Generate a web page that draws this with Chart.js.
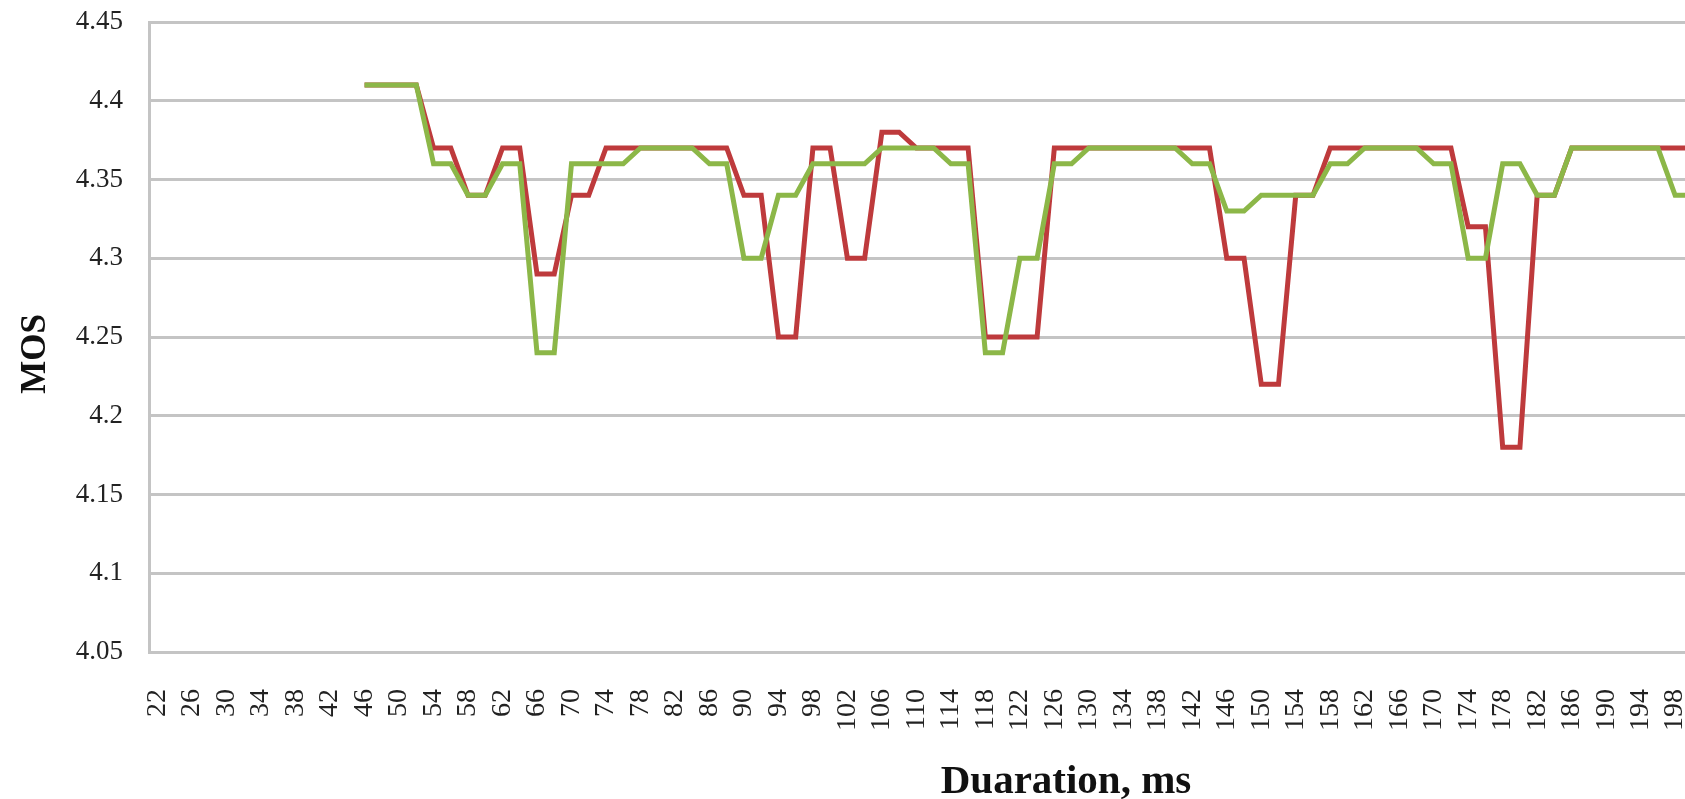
<!DOCTYPE html>
<html>
<head>
<meta charset="utf-8">
<title>MOS vs duration</title>
<script src="https://cdn.jsdelivr.net/npm/chart.js@4.4.1/dist/chart.umd.min.js"></script>
<style>
  html, body { margin: 0; padding: 0; background: #ffffff; overflow: hidden; width: 1685px; height: 799px; }
  #wrap { position: relative; width: 1701px; height: 799px; }
  canvas { display: block; }
</style>
</head>
<body>
<div id="wrap"><canvas id="mosChart" width="1701" height="799"></canvas></div>
<script>
// Duration categories, ms
const durations = [
  22, 24, 26, 28, 30, 32, 34, 36, 38, 40, 42, 44, 46, 48, 50, 52, 54, 56, 58, 60,
  62, 64, 66, 68, 70, 72, 74, 76, 78, 80, 82, 84, 86, 88, 90, 92, 94, 96, 98, 100,
  102, 104, 106, 108, 110, 112, 114, 116, 118, 120, 122, 124, 126, 128, 130, 132, 134, 136, 138, 140,
  142, 144, 146, 148, 150, 152, 154, 156, 158, 160, 162, 164, 166, 168, 170, 172, 174, 176, 178, 180,
  182, 184, 186, 188, 190, 192, 194, 196, 198, 200
];

// MOS, first series (red)
const mosRed = [
  null, null, null, null, null, null, null, null, null, null, null, null,
  4.41, 4.41, 4.41, 4.41, 4.37, 4.37, 4.34, 4.34,
  4.37, 4.37, 4.29, 4.29, 4.34, 4.34, 4.37, 4.37, 4.37, 4.37, 4.37, 4.37, 4.37, 4.37, 4.34, 4.34, 4.25, 4.25, 4.37, 4.37,
  4.30, 4.30, 4.38, 4.38, 4.37, 4.37, 4.37, 4.37, 4.25, 4.25, 4.25, 4.25, 4.37, 4.37, 4.37, 4.37, 4.37, 4.37, 4.37, 4.37,
  4.37, 4.37, 4.30, 4.30, 4.22, 4.22, 4.34, 4.34, 4.37, 4.37, 4.37, 4.37, 4.37, 4.37, 4.37, 4.37, 4.32, 4.32, 4.18, 4.18,
  4.34, 4.34, 4.37, 4.37, 4.37, 4.37, 4.37, 4.37, 4.37, 4.37
];

// MOS, second series (green)
const mosGreen = [
  null, null, null, null, null, null, null, null, null, null, null, null,
  4.41, 4.41, 4.41, 4.41, 4.36, 4.36, 4.34, 4.34,
  4.36, 4.36, 4.24, 4.24, 4.36, 4.36, 4.36, 4.36, 4.37, 4.37, 4.37, 4.37, 4.36, 4.36, 4.30, 4.30, 4.34, 4.34, 4.36, 4.36,
  4.36, 4.36, 4.37, 4.37, 4.37, 4.37, 4.36, 4.36, 4.24, 4.24, 4.30, 4.30, 4.36, 4.36, 4.37, 4.37, 4.37, 4.37, 4.37, 4.37,
  4.36, 4.36, 4.33, 4.33, 4.34, 4.34, 4.34, 4.34, 4.36, 4.36, 4.37, 4.37, 4.37, 4.37, 4.36, 4.36, 4.30, 4.30, 4.36, 4.36,
  4.34, 4.34, 4.37, 4.37, 4.37, 4.37, 4.37, 4.37, 4.34, 4.34
];

// Axis range and titles
const yMin = 4.05;
const yMax = 4.45;
const yStep = 0.05;
const xTitle = 'Duaration, ms';
const yTitle = 'MOS';

const serif = '"Liberation Serif", "Times New Roman", Times, serif';
const gridGrey = '#c4c4c4';

// Draws the two axis titles in bold serif
const axisTitles = {
  id: 'axisTitles',
  afterDraw(chart) {
    const ctx = chart.ctx;
    ctx.save();
    ctx.fillStyle = '#111111';
    ctx.textAlign = 'center';
    ctx.textBaseline = 'alphabetic';
    ctx.font = 'bold 41px ' + serif;
    ctx.fillText(xTitle, 1066, 793);
    ctx.translate(45, 354);
    ctx.rotate(-Math.PI / 2);
    ctx.font = 'bold 35px ' + serif;
    ctx.fillText(yTitle, 0, 0);
    ctx.restore();
  }
};

new Chart(document.getElementById('mosChart'), {
  type: 'line',
  data: {
    labels: durations,
    datasets: [
      {
        label: 'Series 1',
        data: mosRed,
        borderColor: '#be3a3c',
        borderWidth: 5,
        pointRadius: 0,
        tension: 0,
        spanGaps: false,
        order: 2
      },
      {
        label: 'Series 2',
        data: mosGreen,
        borderColor: '#8cb748',
        borderWidth: 5,
        pointRadius: 0,
        tension: 0,
        spanGaps: false,
        order: 1
      }
    ]
  },
  options: {
    responsive: false,
    animation: false,
    devicePixelRatio: 1,
    layout: { padding: { top: 22, right: 0, bottom: 0, left: 0 } },
    plugins: {
      legend: { display: false },
      tooltip: { enabled: false }
    },
    scales: {
      x: {
        type: 'category',
        offset: true,
        grid: { display: false, drawTicks: false },
        border: { display: true, color: gridGrey, width: 3 },
        ticks: {
          autoSkip: false,
          minRotation: 90,
          maxRotation: 90,
          padding: 37,
          color: '#222222',
          font: { family: serif, size: 28 },
          callback(value, index) {
            return index % 2 === 0 ? String(this.getLabelForValue(value)) : '';
          }
        },
        afterFit(scale) {
          scale.height = 147;
          scale.paddingLeft = 0;
          scale.paddingRight = 0;
        }
      },
      y: {
        min: yMin,
        max: yMax,
        grid: { color: gridGrey, lineWidth: 3, drawTicks: false },
        border: { display: true, color: gridGrey, width: 3 },
        ticks: {
          stepSize: yStep,
          padding: 26,
          color: '#222222',
          font: { family: serif, size: 27 },
          callback(value) { return String(parseFloat(value.toFixed(2))); }
        },
        afterFit(scale) {
          scale.width = 149;
          scale.paddingTop = 0;
          scale.paddingBottom = 0;
        }
      }
    }
  },
  plugins: [axisTitles]
});
</script>
</body>
</html>
